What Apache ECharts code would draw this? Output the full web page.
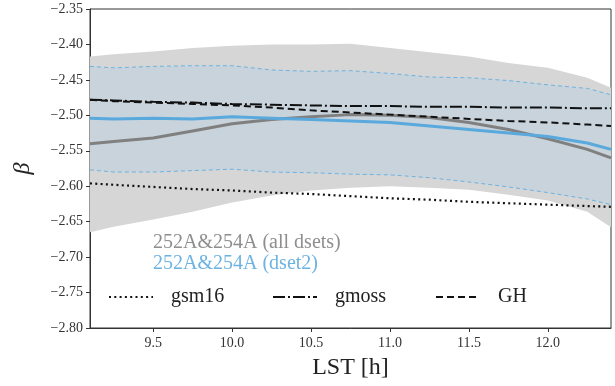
<!DOCTYPE html>
<html><head><meta charset="utf-8">
<script src="https://cdn.jsdelivr.net/npm/echarts@6/dist/echarts.min.js"></script>
<style>html,body{margin:0;padding:0;background:#fff}#c{width:615px;height:386px}</style>
</head><body><div id="c"></div>
<script>
const lst = [9.1, 9.25, 9.5, 9.75, 10.0, 10.25, 10.5, 10.75, 11.0, 11.25, 11.5, 11.75, 12.0, 12.25, 12.4];
const allUpper = [-2.417, -2.414, -2.410, -2.405, -2.402, -2.400, -2.400, -2.399, -2.405, -2.411, -2.417, -2.426, -2.433, -2.447, -2.461];
const allLower = [-2.665, -2.657, -2.647, -2.636, -2.623, -2.613, -2.606, -2.602, -2.600, -2.602, -2.605, -2.612, -2.620, -2.636, -2.658];
const allMean  = [-2.540, -2.537, -2.532, -2.522, -2.512, -2.506, -2.502, -2.499, -2.500, -2.503, -2.510, -2.520, -2.533, -2.548, -2.560];
const d2Upper  = [-2.431, -2.433, -2.431, -2.430, -2.430, -2.436, -2.438, -2.437, -2.441, -2.446, -2.447, -2.451, -2.457, -2.462, -2.471];
const d2Lower  = [-2.577, -2.580, -2.580, -2.578, -2.576, -2.580, -2.581, -2.583, -2.584, -2.588, -2.594, -2.601, -2.609, -2.618, -2.626];
const d2Mean   = [-2.504, -2.505, -2.504, -2.505, -2.502, -2.504, -2.506, -2.508, -2.510, -2.515, -2.520, -2.525, -2.530, -2.539, -2.548];
const gsm16    = [-2.596, -2.598, -2.601, -2.604, -2.606, -2.609, -2.611, -2.614, -2.617, -2.619, -2.622, -2.624, -2.626, -2.628, -2.629];
const gmoss    = [-2.478, -2.479, -2.481, -2.482, -2.484, -2.485, -2.486, -2.487, -2.487, -2.488, -2.488, -2.489, -2.489, -2.490, -2.490];
const gh       = [-2.478, -2.480, -2.482, -2.484, -2.486, -2.489, -2.493, -2.496, -2.499, -2.502, -2.505, -2.508, -2.510, -2.513, -2.515];
const xTicks = [9.5, 10.0, 10.5, 11.0, 11.5, 12.0];
const nameAll = '252A&254A (all dsets)';
const nameD2 = '252A&254A (dset2)';

const FONT = 'Liberation Serif';
const pairs = ys => lst.map((x, i) => [x, ys[i]]);
function band(upper, lower, fill) {
  return {
    type: 'custom', silent: true, clip: true,
    data: [[lst[0], upper[0]]],
    renderItem: (params, api) => {
      const pts = lst.map((x, i) => api.coord([x, upper[i]]))
        .concat(lst.slice().reverse().map((x, j) => api.coord([x, lower[lst.length - 1 - j]])));
      return { type: 'polygon', shape: { points: pts }, style: { fill: fill } };
    }
  };
}
function line(name, ys, color, width, type) {
  return {
    name: name, type: 'line', data: pairs(ys), symbol: 'none', showSymbol: false,
    lineStyle: { color: color, width: width, type: type }, itemStyle: { color: color },
    emphasis: { disabled: true }
  };
}
const fmtMinus = v => (v < 0 ? '\u2212' : '') + Math.abs(v).toFixed(2);
const legBase = { top: 287, padding: 0, itemWidth: 44, itemHeight: 14, selectedMode: false,
  itemStyle: { opacity: 0 },
  textStyle: { fontFamily: FONT, fontSize: 20, color: '#222', padding: [0, 0, 0, 13] } };

const chart = echarts.init(document.getElementById('c'));
chart.setOption({
  animation: false,
  backgroundColor: '#fff',
  grid: { left: 90, right: 4, top: 9, bottom: 58, show: true, borderColor: '#333', borderWidth: 1, backgroundColor: 'transparent' },
  xAxis: {
    type: 'value', min: 9.1, max: 12.4,
    name: 'LST [h]', nameLocation: 'middle', nameGap: 28,
    nameTextStyle: { fontFamily: FONT, fontSize: 24, color: '#222' },
    axisLine: { show: true, onZero: false, lineStyle: { color: '#333', width: 1 } },
    axisTick: { show: true, length: 4, customValues: xTicks, lineStyle: { color: '#333' } },
    axisLabel: { customValues: xTicks, formatter: v => v.toFixed(1), fontFamily: FONT, fontSize: 14, color: '#333', margin: 8 },
    splitLine: { show: false }
  },
  yAxis: {
    type: 'value', min: -2.80, max: -2.35, interval: 0.05,
    name: '\u03b2', nameLocation: 'middle', nameGap: 55, nameRotate: 90,
    nameTextStyle: { fontFamily: FONT, fontSize: 24, color: '#222', fontStyle: 'italic' },
    axisLine: { show: true, onZero: false, lineStyle: { color: '#333', width: 1 } },
    axisTick: { show: true, length: 4, lineStyle: { color: '#333' } },
    axisLabel: { formatter: fmtMinus, fontFamily: FONT, fontSize: 14, color: '#333', margin: 7 },
    splitLine: { show: false }
  },
  legend: [
    { left: 148, top: 232, orient: 'vertical', padding: 0, itemGap: 0, itemWidth: 0, itemHeight: 10, icon: 'none',
      selectedMode: false,
      data: [ { name: nameAll, textStyle: { color: '#8e8e8e' } }, { name: nameD2, textStyle: { color: '#6cb3e1' } } ],
      textStyle: { fontFamily: FONT, fontSize: 20, lineHeight: 21 } },
    Object.assign({}, legBase, { left: 108, data: ['gsm16'] }),
    Object.assign({}, legBase, { left: 272, data: ['gmoss'] }),
    Object.assign({}, legBase, { left: 435, data: ['GH'] })
  ],
  series: [
    band(allUpper, allLower, '#d6d6d6'),
    band(d2Upper, d2Lower, '#c8d3dc'),
    line('d2u', d2Upper, '#6cb3e1', 1, [4, 3]),
    line('d2l', d2Lower, '#6cb3e1', 1, [4, 3]),
    line(nameAll, allMean, '#808080', 3, 'solid'),
    line(nameD2, d2Mean, '#5aa9dd', 3, 'solid'),
    line('gsm16', gsm16, '#111', 2.2, [2, 3.3]),
    line('gmoss', gmoss, '#111', 2, [12, 3, 2, 3]),
    line('GH', gh, '#111', 2, [7, 4])
  ]
});
</script></body></html>
